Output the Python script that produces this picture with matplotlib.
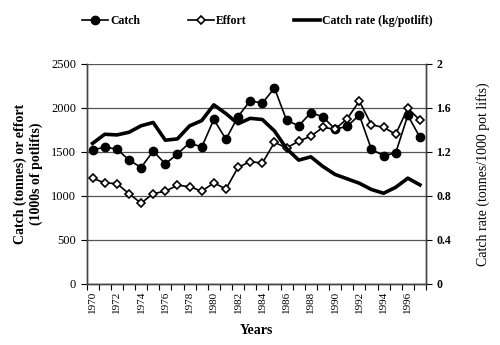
import numpy as np
import matplotlib
matplotlib.use("Agg")
import matplotlib.pyplot as plt
from matplotlib.ticker import FixedLocator, NullFormatter

plt.rcParams["font.family"] = ["Liberation Serif", "DejaVu Serif"]

# data
years = list(range(1970, 1998))
catch = [1523, 1553, 1532, 1409, 1322, 1508, 1364, 1476, 1603, 1553,
         1868, 1644, 1901, 2081, 2053, 2225, 1860, 1795, 1945, 1898,
         1758, 1790, 1918, 1528, 1458, 1488, 1915, 1665]
effort = [1201, 1147, 1140, 1026, 917, 1026, 1053, 1120, 1106, 1053,
          1148, 1078, 1324, 1390, 1371, 1608, 1545, 1621, 1678, 1778,
          1758, 1877, 2076, 1807, 1778, 1701, 1996, 1860]
catch_rate = [1.277, 1.36, 1.354, 1.378, 1.437, 1.467, 1.306, 1.318, 1.436, 1.484,
              1.627, 1.548, 1.455, 1.505, 1.494, 1.39, 1.23, 1.125, 1.155, 1.067,
              0.995, 0.955, 0.915, 0.858, 0.824, 0.878, 0.961, 0.9]

x = np.arange(len(years))

fig = plt.figure(figsize=(5.0, 3.45), dpi=100)
ax = fig.add_axes([0.173, 0.177, 0.679, 0.638])
ax2 = ax.twinx()

# grid lines
for v in range(0, 2501, 500):
    ax.axhline(v, color="#555555", lw=0.9, zorder=0)

l1, = ax.plot(x, catch, color="black", lw=1.2, marker="o", ms=6,
              mfc="black", mec="black", label="Catch", zorder=3)
l2, = ax.plot(x, effort, color="black", lw=1.2, marker="D", ms=4.5,
              mfc="white", mec="black", mew=1.2, label="Effort", zorder=3)
l3, = ax2.plot(x, catch_rate, color="black", lw=2.6, label="Catch rate (kg/potlift)")

ax.set_xlim(-0.5, len(years) - 0.5)
ax.set_ylim(0, 2500)
ax2.set_ylim(0, 2)

ax.set_yticks(range(0, 2501, 500))
ax2.set_yticks([0, 0.4, 0.8, 1.2, 1.6, 2])
ax2.set_yticklabels(["0", "0.4", "0.8", "1.2", "1.6", "2"], fontweight="bold")

ax.xaxis.set_major_locator(FixedLocator(x[::2]))
ax.set_xticklabels([str(y) for y in years[::2]], rotation=90, fontsize=8)
ax.xaxis.set_minor_locator(FixedLocator(np.arange(-0.5, len(years), 1)))
ax.xaxis.set_minor_formatter(NullFormatter())
ax.tick_params(axis="x", which="major", length=0, pad=5)
ax.tick_params(axis="x", which="minor", length=4, direction="out", width=0.8)
ax.tick_params(axis="y", length=4, width=0.8, labelsize=9)
ax2.tick_params(axis="y", length=4, width=0.8, labelsize=8.5)

for a in (ax, ax2):
    a.spines["top"].set_visible(False)
    for s in ("left", "right", "bottom"):
        a.spines[s].set_color("#444444")
        a.spines[s].set_linewidth(1.0)

ax.set_xlabel("Years", fontsize=10, fontweight="bold", labelpad=8)
ax.set_ylabel("Catch (tonnes) or effort\n(1000s of potlifts)", fontsize=10,
              fontweight="bold", labelpad=6)
ax2.set_ylabel("Catch rate (tonnes/1000 pot lifts)", fontsize=10, labelpad=18)

fig.legend(handles=[l1, l2, l3], loc="center", bbox_to_anchor=(0.515, 0.94),
           ncol=3, frameon=False, handlelength=2.2, columnspacing=4.0,
           handletextpad=0.2, prop={"weight": "bold", "size": 8.5})

fig.savefig("out.png", dpi=100)
